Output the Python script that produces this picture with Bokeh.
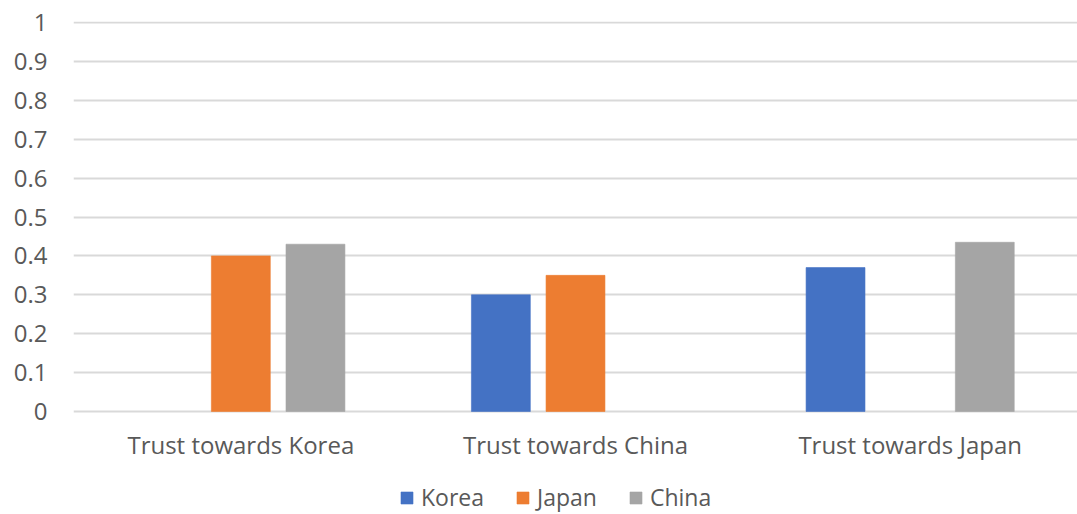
from bokeh.plotting import figure
from bokeh.models import ColumnDataSource, FactorRange, Legend, LegendItem, Range1d, FixedTicker, CustomJSTickFormatter
from bokeh.core.properties import value
from bokeh.transform import dodge
from bokeh.embed import file_html
from bokeh.resources import INLINE

categories = ["Trust towards Korea", "Trust towards China", "Trust towards Japan"]
series_names = ["Korea", "Japan", "China"]
korea = [None, 0.30, 0.37]
japan = [0.40, 0.35, None]
china = [0.43, None, 0.435]
y_ticks = [0, 0.1, 0.2, 0.3, 0.4, 0.5, 0.6, 0.7, 0.8, 0.9, 1]

colors = ["#4472C4", "#ED7D31", "#A5A5A5"]
offsets = [-0.223, 0.0, 0.223]
FONT = "Open Sans"
TXT = "#595959"

PX = 389.0  # pixels per unit on the value axis
p = figure(width=1077, height=514, output_backend="svg", toolbar_location=None,
           x_range=FactorRange(factors=categories, range_padding=0),
           y_range=Range1d(-103 / PX, 390 / PX),
           min_border_left=73, min_border_right=0, min_border_top=21, min_border_bottom=0)
p.outline_line_color = None
p.background_fill_color = "white"
p.border_fill_color = "white"

p.xgrid.grid_line_color = None
p.ygrid.ticker = FixedTicker(ticks=y_ticks)
p.ygrid.grid_line_color = "#D9D9D9"
p.ygrid.grid_line_width = 2

items = []
for name, vals, col, off in zip(series_names, [korea, japan, china], colors, offsets):
    xs = [c for c, v in zip(categories, vals) if v is not None]
    ys = [v for v in vals if v is not None]
    src = ColumnDataSource(dict(x=xs, top=ys))
    r = p.vbar(x=dodge("x", off, range=p.x_range), top="top", bottom=0, width=0.176,
               source=src, fill_color=col, line_color=col, line_alpha=0.6, line_width=1)
    items.append(LegendItem(label=name, renderers=[r]))

# category labels under the bars
p.text(x=categories, y=[-33 / PX] * len(categories), text=categories,
       text_font=value(FONT), text_font_size="24px", text_color=TXT,
       text_align="center", text_baseline="middle")

p.xaxis.visible = False

p.yaxis.ticker = FixedTicker(ticks=y_ticks)
p.yaxis.formatter = CustomJSTickFormatter(code="return (Math.round(tick*10)/10).toString();")
p.yaxis.axis_line_color = None
p.yaxis.major_tick_line_color = None
p.yaxis.minor_tick_line_color = None
p.yaxis.major_label_text_font = FONT
p.yaxis.major_label_text_font_size = "24px"
p.yaxis.major_label_text_color = TXT
p.yaxis.major_label_standoff = 20

legend = Legend(items=items, orientation="horizontal", location=(326, 1),
                label_text_font=FONT, label_text_font_size="23px", label_text_color=TXT,
                glyph_width=15, glyph_height=15, spacing=31, label_standoff=7,
                border_line_color=None, background_fill_alpha=0, padding=0, margin=0)
p.add_layout(legend)

open("out.html", "w").write(file_html(p, INLINE))
